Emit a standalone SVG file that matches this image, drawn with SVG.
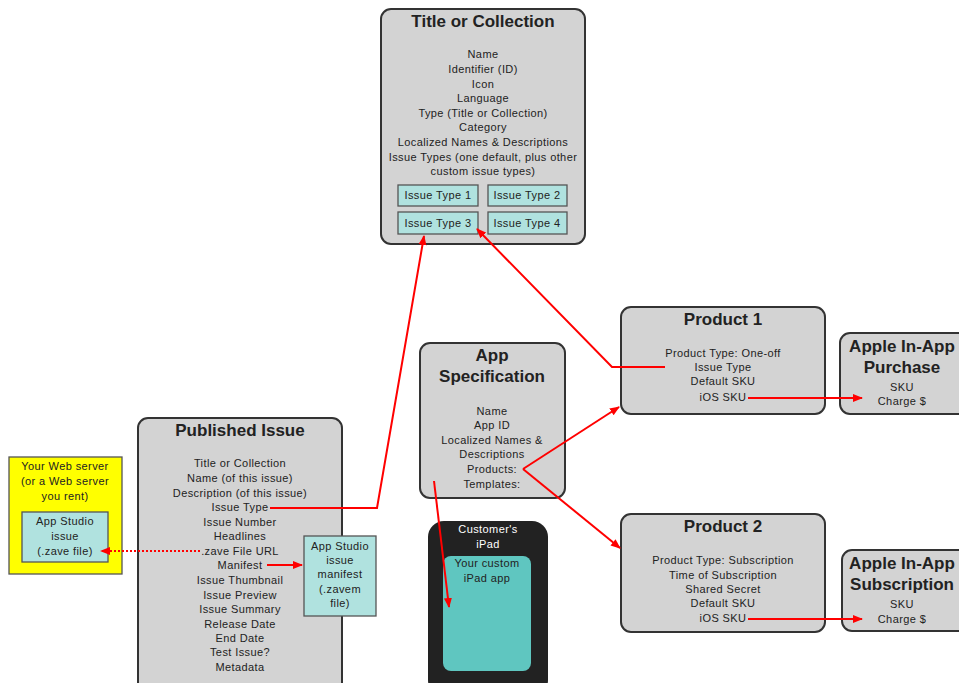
<svg xmlns="http://www.w3.org/2000/svg" width="959" height="683" viewBox="0 0 959 683">
<style>
.box{fill:#d3d3d3;stroke:#333;stroke-width:2}
.cy{fill:#b0e2df;stroke:#555;stroke-width:1.3}
.t{font-family:"Liberation Sans",Arial,sans-serif;font-size:11px;letter-spacing:0.4px;fill:#222;text-anchor:middle}
.h{font-family:"Liberation Sans",Arial,sans-serif;font-size:17px;font-weight:bold;fill:#222;text-anchor:middle}
.w{fill:#fff}
.c{fill:none;stroke:#f00;stroke-width:2}
</style>
<defs>
<marker id="ah" viewBox="0 0 10 10" refX="9" refY="5" markerWidth="5" markerHeight="5" orient="auto" markerUnits="strokeWidth">
<path d="M0,1 L10,5 L0,9 z" fill="#f00"/>
</marker>
</defs>
<rect width="959" height="683" fill="#fff"/>

<g id="title-collection">
<rect class="box" x="381" y="9" width="204" height="235" rx="10"/>
<text class="h" x="483" y="27">Title or Collection</text>
<text class="t" x="483" y="58">Name</text>
<text class="t" x="483" y="73">Identifier (ID)</text>
<text class="t" x="483" y="88">Icon</text>
<text class="t" x="483" y="102">Language</text>
<text class="t" x="483" y="117">Type (Title or Collection)</text>
<text class="t" x="483" y="131">Category</text>
<text class="t" x="483" y="146">Localized Names &amp; Descriptions</text>
<text class="t" x="483" y="161">Issue Types (one default, plus other</text>
<text class="t" x="483" y="175">custom issue types)</text>
</g>
<g id="issue-type-1"><rect class="cy" x="398" y="185" width="80" height="21"/><text class="t" x="438" y="199">Issue Type 1</text></g>
<g id="issue-type-2"><rect class="cy" x="488" y="185" width="79" height="21"/><text class="t" x="527" y="199">Issue Type 2</text></g>
<g id="issue-type-3"><rect class="cy" x="398" y="212" width="80" height="22"/><text class="t" x="438" y="227">Issue Type 3</text></g>
<g id="issue-type-4"><rect class="cy" x="488" y="212" width="79" height="22"/><text class="t" x="527" y="227">Issue Type 4</text></g>

<g id="published-issue">
<rect class="box" x="138" y="418" width="204" height="275" rx="10"/>
<text class="h" x="240" y="436">Published Issue</text>
<text class="t" x="240" y="467">Title or Collection</text>
<text class="t" x="240" y="482">Name (of this issue)</text>
<text class="t" x="240" y="497">Description (of this issue)</text>
<text class="t" x="240" y="511">Issue Type</text>
<text class="t" x="240" y="526">Issue Number</text>
<text class="t" x="240" y="540">Headlines</text>
<text class="t" x="240" y="555">.zave File URL</text>
<text class="t" x="240" y="569">Manifest</text>
<text class="t" x="240" y="584">Issue Thumbnail</text>
<text class="t" x="240" y="599">Issue Preview</text>
<text class="t" x="240" y="613">Issue Summary</text>
<text class="t" x="240" y="628">Release Date</text>
<text class="t" x="240" y="642">End Date</text>
<text class="t" x="240" y="656">Test Issue?</text>
<text class="t" x="240" y="671">Metadata</text>
</g>

<g id="web-server">
<rect x="9" y="457" width="113" height="117" fill="#ff0" stroke="#555" stroke-width="1.3"/>
<text class="t" x="65" y="470">Your Web server</text>
<text class="t" x="65" y="485">(or a Web server</text>
<text class="t" x="65" y="500">you rent)</text>
</g>
<g id="zave-file">
<rect class="cy" x="22" y="512" width="86" height="50"/>
<text class="t" x="65" y="525">App Studio</text>
<text class="t" x="65" y="540">issue</text>
<text class="t" x="65" y="555">(.zave file)</text>
</g>

<g id="manifest-file">
<rect class="cy" x="304" y="536" width="72" height="80"/>
<text class="t" x="340" y="550">App Studio</text>
<text class="t" x="340" y="564">issue</text>
<text class="t" x="340" y="578">manifest</text>
<text class="t" x="340" y="593">(.zavem</text>
<text class="t" x="340" y="607">file)</text>
</g>

<g id="app-specification">
<rect class="box" x="420" y="343" width="145" height="155" rx="10"/>
<text class="h" x="492" y="361">App</text>
<text class="h" x="492" y="382">Specification</text>
<text class="t" x="492" y="415">Name</text>
<text class="t" x="492" y="429">App ID</text>
<text class="t" x="492" y="444">Localized Names &amp;</text>
<text class="t" x="492" y="458">Descriptions</text>
<text class="t" x="492" y="473">Products:</text>
<text class="t" x="492" y="488">Templates:</text>
</g>

<g id="customers-ipad">
<rect x="428" y="521" width="120" height="175" rx="16" fill="#222"/>
<text class="t w" x="488" y="533">Customer's</text>
<text class="t w" x="488" y="548">iPad</text>
</g>
<g id="custom-app">
<rect x="443" y="556" width="88" height="115" rx="8" fill="#5fc6c0"/>
<text class="t" x="487" y="567">Your custom</text>
<text class="t" x="487" y="582">iPad app</text>
</g>

<g id="product-1">
<rect class="box" x="621" y="307" width="204" height="107" rx="10"/>
<text class="h" x="723" y="325">Product 1</text>
<text class="t" x="723" y="357">Product Type: One-off</text>
<text class="t" x="723" y="371">Issue Type</text>
<text class="t" x="723" y="385">Default SKU</text>
<text class="t" x="723" y="401">iOS SKU</text>
</g>

<g id="apple-purchase">
<rect class="box" x="840" y="333" width="130" height="81" rx="10"/>
<text class="h" x="902" y="352">Apple In-App</text>
<text class="h" x="902" y="373">Purchase</text>
<text class="t" x="902" y="391">SKU</text>
<text class="t" x="902" y="405">Charge $</text>
</g>

<g id="product-2">
<rect class="box" x="621" y="514" width="204" height="118" rx="10"/>
<text class="h" x="723" y="532">Product 2</text>
<text class="t" x="723" y="564">Product Type: Subscription</text>
<text class="t" x="723" y="579">Time of Subscription</text>
<text class="t" x="723" y="593">Shared Secret</text>
<text class="t" x="723" y="607">Default SKU</text>
<text class="t" x="723" y="622">iOS SKU</text>
</g>

<g id="apple-subscription">
<rect class="box" x="842" y="550" width="130" height="81" rx="10"/>
<text class="h" x="902" y="569">Apple In-App</text>
<text class="h" x="902" y="590">Subscription</text>
<text class="t" x="902" y="608">SKU</text>
<text class="t" x="902" y="623">Charge $</text>
</g>

<g id="connectors">
<path class="c" d="M270,508 H377 L424,236" marker-end="url(#ah)"/>
<path class="c" d="M665,367 H612 L477,229" marker-end="url(#ah)"/>
<path class="c" d="M200,551 H101" stroke-dasharray="2,2" marker-end="url(#ah)"/>
<path class="c" d="M267,565 H302" marker-end="url(#ah)"/>
<path class="c" d="M523,469 L619,407" marker-end="url(#ah)"/>
<path class="c" d="M523,469 L620,548" marker-end="url(#ah)"/>
<path class="c" d="M434,481 L449,607" marker-end="url(#ah)"/>
<path class="c" d="M748,398 H862" marker-end="url(#ah)"/>
<path class="c" d="M748,619 H862" marker-end="url(#ah)"/>
</g>
</svg>
